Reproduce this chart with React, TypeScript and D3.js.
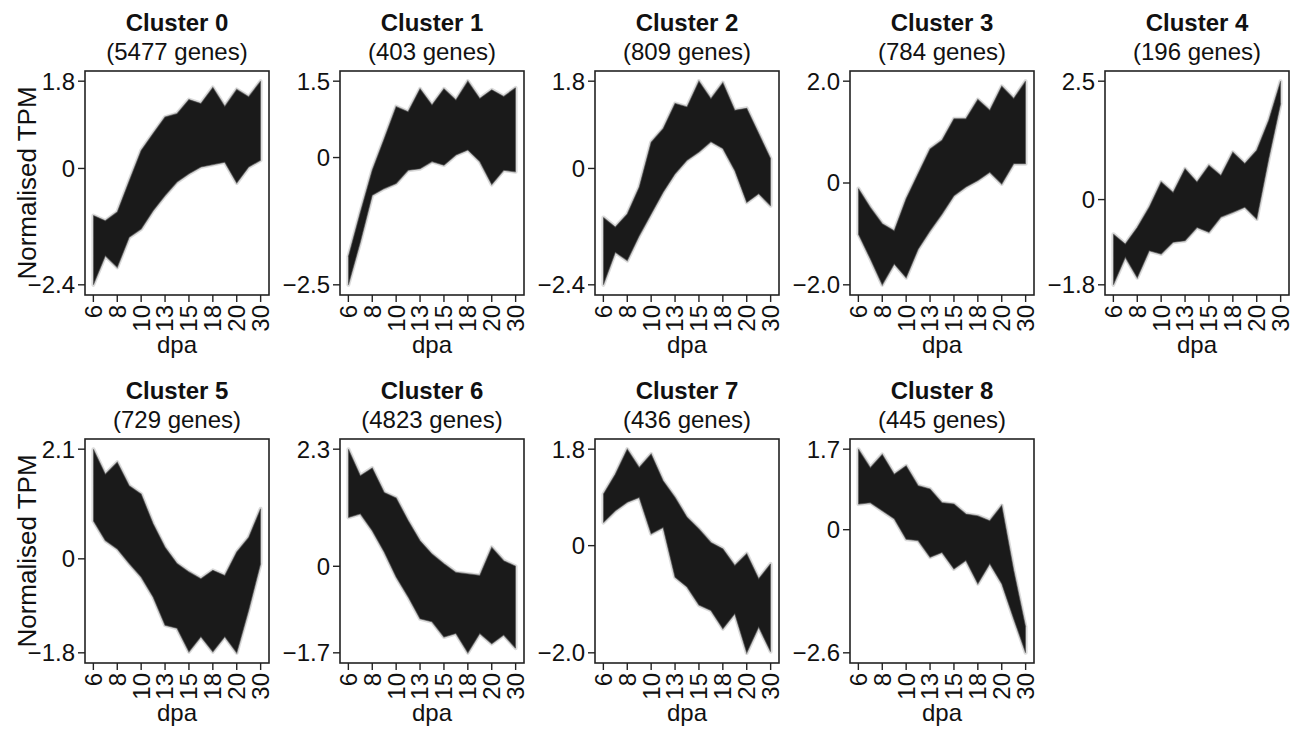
import React from 'react';
import * as d3 from 'd3';

const geneCounts = [5477, 403, 809, 784, 196, 729, 4823, 436, 445];
const dpaLabels = ['6', '8', '10', '13', '15', '18', '20', '30'];
// 15 sample positions along x; every second one carries a dpa label
const samplePos = [0, 1, 2, 3, 4, 5, 6, 7, 8, 9, 10, 11, 12, 13, 14];

// upper / lower envelope of the gene profiles
const c0Upper = [-0.97, -1.08, -0.9, -0.26, 0.37, 0.72, 1.06, 1.13, 1.42, 1.34, 1.67, 1.28, 1.63, 1.48, 1.8];
const c0Lower = [-2.4, -1.8, -2.04, -1.42, -1.25, -0.87, -0.56, -0.28, -0.11, 0.03, 0.08, 0.13, -0.3, 0.03, 0.17];
const c1Upper = [-1.95, -1.08, -0.25, 0.37, 1.0, 0.9, 1.35, 1.03, 1.35, 1.13, 1.5, 1.16, 1.33, 1.2, 1.37];
const c1Lower = [-2.5, -1.66, -0.74, -0.61, -0.51, -0.25, -0.22, -0.08, -0.15, 0.05, 0.15, -0.08, -0.53, -0.25, -0.28];
const c2Upper = [-1.01, -1.21, -0.94, -0.39, 0.54, 0.82, 1.34, 1.27, 1.8, 1.44, 1.77, 1.2, 1.24, 0.72, 0.2];
const c2Lower = [-2.4, -1.73, -1.9, -1.39, -0.94, -0.49, -0.11, 0.17, 0.34, 0.55, 0.41, -0.04, -0.7, -0.52, -0.77];
const c3Upper = [-0.11, -0.48, -0.8, -0.94, -0.31, 0.18, 0.67, 0.84, 1.26, 1.26, 1.64, 1.43, 1.9, 1.66, 2.0];
const c3Lower = [-1.0, -1.49, -2.0, -1.59, -1.86, -1.3, -0.94, -0.61, -0.25, -0.08, 0.05, 0.21, -0.02, 0.38, 0.38];
const c4Upper = [-0.73, -0.94, -0.59, -0.16, 0.37, 0.15, 0.65, 0.37, 0.72, 0.51, 1.0, 0.76, 1.04, 1.67, 2.5];
const c4Lower = [-1.8, -1.22, -1.65, -1.08, -1.15, -0.9, -0.87, -0.59, -0.69, -0.37, -0.27, -0.16, -0.41, 0.86, 2.03];
const c5Upper = [2.1, 1.62, 1.85, 1.4, 1.24, 0.67, 0.22, -0.09, -0.25, -0.38, -0.22, -0.32, 0.13, 0.41, 0.96];
const c5Lower = [0.73, 0.35, 0.19, -0.09, -0.35, -0.73, -1.27, -1.33, -1.78, -1.49, -1.78, -1.49, -1.8, -0.98, -0.09];
const c6Upper = [2.3, 1.78, 1.93, 1.45, 1.34, 0.9, 0.5, 0.24, 0.05, -0.12, -0.15, -0.18, 0.37, 0.11, 0.0];
const c6Lower = [0.96, 1.03, 0.7, 0.28, -0.21, -0.6, -1.03, -1.09, -1.39, -1.32, -1.7, -1.32, -1.52, -1.35, -1.61];
const c7Upper = [0.96, 1.33, 1.8, 1.46, 1.71, 1.21, 0.9, 0.53, 0.31, 0.06, -0.06, -0.37, -0.15, -0.62, -0.34];
const c7Lower = [0.43, 0.65, 0.81, 0.9, 0.22, 0.34, -0.59, -0.77, -1.11, -1.21, -1.55, -1.27, -2.0, -1.52, -1.98];
const c8Upper = [1.7, 1.31, 1.59, 1.17, 1.35, 0.93, 0.86, 0.57, 0.54, 0.33, 0.29, 0.19, 0.51, -0.86, -2.06];
const c8Lower = [0.54, 0.57, 0.4, 0.23, -0.2, -0.23, -0.58, -0.48, -0.83, -0.65, -1.14, -0.72, -1.14, -1.88, -2.6];

const uppers = [c0Upper, c1Upper, c2Upper, c3Upper, c4Upper, c5Upper, c6Upper, c7Upper, c8Upper];
const lowers = [c0Lower, c1Lower, c2Lower, c3Lower, c4Lower, c5Lower, c6Lower, c7Lower, c8Lower];

const W = 1293;
const H = 736;
const PW = 184;
const PH = 224;
const colStep = 255;
const rowTops = [71, 439];
const firstLeft = 85;
const FONT = "'Liberation Sans', Arial, Helvetica, sans-serif";
const INK = '#1a1a1a';
const FS = 24;

const fmt = (v: number) => (v === 0 ? '0' : d3.format('.1f')(v));

function Panel({ idx }: { idx: number }) {
  const col = idx % 5;
  const row = Math.floor(idx / 5);
  const left = firstLeft + col * colStep;
  const top = rowTops[row];
  const upper = uppers[idx];
  const lower = lowers[idx];

  const lo = d3.min(lower) as number;
  const hi = d3.max(upper) as number;
  const pad = (hi - lo) * 0.05;
  const y = d3.scaleLinear().domain([lo - pad, hi + pad]).range([top + PH, top]);
  const x = d3.scaleLinear().domain([-0.7, 14.7]).range([left, left + PW]);

  const area = d3.area<number>()
    .x((d) => x(d))
    .y0((d) => y(lower[d]))
    .y1((d) => y(upper[d]));
  const upLine = d3.line<number>().x((d) => x(d)).y((d) => y(upper[d]));
  const loLine = d3.line<number>().x((d) => x(d)).y((d) => y(lower[d]));

  const yTicks = [lo, 0, hi];
  const xTicks = samplePos.filter((p) => p % 2 === 0);
  const cx = left + PW / 2;

  return (
    <g>
      <text x={cx} y={top - 40} textAnchor="middle" fontWeight="bold" fontSize={FS} fill="#111">
        Cluster {idx}
      </text>
      <text x={cx} y={top - 11} textAnchor="middle" fontSize={FS} fill="#111">
        ({geneCounts[idx]} genes)
      </text>

      {/* soft halo of the outermost light lines */}
      <path d={area(samplePos) || ''} fill="none" stroke="#b0b0b0" strokeOpacity={0.45} strokeWidth={4} strokeLinejoin="round" />
      <path d={area(samplePos) || ''} fill={INK} />
      <path d={upLine(samplePos) || ''} fill="none" stroke="#444" strokeOpacity={0.6} strokeWidth={1.2} />
      <path d={loLine(samplePos) || ''} fill="none" stroke="#444" strokeOpacity={0.6} strokeWidth={1.2} />

      <rect x={left} y={top} width={PW} height={PH} fill="none" stroke="#222" strokeWidth={1.6} />

      {yTicks.map((t, i) => (
        <g key={i}>
          <line x1={left - 7} x2={left} y1={y(t)} y2={y(t)} stroke="#222" strokeWidth={1.4} />
          <text x={left - 10} y={y(t)} dy="0.35em" textAnchor="end" fontSize={FS} fill="#111">
            {fmt(t)}
          </text>
        </g>
      ))}

      {xTicks.map((p, i) => (
        <g key={p}>
          <line x1={x(p)} x2={x(p)} y1={top + PH} y2={top + PH + 7} stroke="#222" strokeWidth={1.4} />
          <text
            transform={`translate(${x(p)},${top + PH + 10}) rotate(-90)`}
            dy="0.35em"
            textAnchor="end"
            fontSize={FS}
            fill="#111"
          >
            {dpaLabels[i]}
          </text>
        </g>
      ))}

      <text x={cx} y={top + PH + 58} textAnchor="middle" fontSize={FS} fill="#111">
        dpa
      </text>

      {col === 0 && (
        <text transform={`translate(36,${top + PH / 2}) rotate(-90)`} textAnchor="middle" fontSize={26} fill="#111">
          Normalised TPM
        </text>
      )}
    </g>
  );
}

export default function App() {
  return (
    <svg
      width={W}
      height={H}
      viewBox={`0 0 ${W} ${H}`}
      style={{ position: 'absolute', left: 0, top: 0, background: '#fff' }}
      fontFamily={FONT}
    >
      <rect width={W} height={H} fill="#fff" />
      {geneCounts.map((_, i) => (
        <Panel key={i} idx={i} />
      ))}
    </svg>
  );
}
